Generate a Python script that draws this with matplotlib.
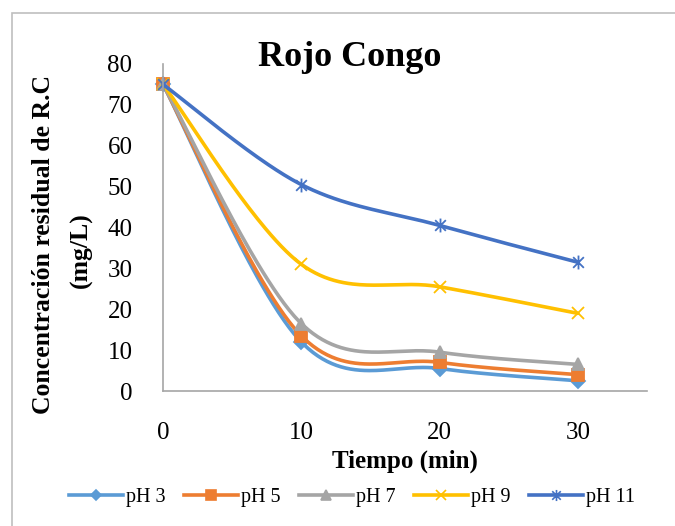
import numpy as np
import matplotlib
matplotlib.use("Agg")
import matplotlib.pyplot as plt
from matplotlib.lines import Line2D
from matplotlib.path import Path
from matplotlib.patches import Rectangle

plt.rcParams["font.family"] = ["Liberation Serif", "DejaVu Serif"]

tiempo = [0, 10, 20, 30]
ph3 = [75, 12, 5.5, 2.5]
ph5 = [75, 13.5, 7, 4]
ph7 = [75, 16.5, 9.5, 6.5]
ph9 = [75, 31, 25.5, 19]
ph11 = [75, 50.5, 40.5, 31.5]
labels = ["pH 3", "pH 5", "pH 7", "pH 9", "pH 11"]
colors = ["#5B9BD5", "#ED7D31", "#A5A5A5", "#FFC000", "#4472C4"]

# star marker: an x with a vertical bar through it
star = Path([(-1, -1), (1, 1), (-1, 1), (1, -1), (0, -1.3), (0, 1.3)],
            [Path.MOVETO, Path.LINETO, Path.MOVETO, Path.LINETO, Path.MOVETO, Path.LINETO])
markers = ["D", "s", "^", "x", star]
msizes = [7, 9, 9, 9, 10]


def smooth(x, y, n=60):
    # catmull-rom style bezier through the points
    x = np.asarray(x, float)
    y = np.asarray(y, float)
    px = np.concatenate([[x[0]], x, [x[-1]]])
    py = np.concatenate([[y[0]], y, [y[-1]]])
    xs, ys = [], []
    t = np.linspace(0, 1, n)
    for i in range(len(x) - 1):
        p0 = np.array([px[i + 1], py[i + 1]])
        p3 = np.array([px[i + 2], py[i + 2]])
        c1 = p0 + (np.array([px[i + 2], py[i + 2]]) - np.array([px[i], py[i]])) / 6
        c2 = p3 - (np.array([px[i + 3], py[i + 3]]) - np.array([px[i + 1], py[i + 1]])) / 6
        b = ((1 - t) ** 3)[:, None] * p0 + (3 * (1 - t) ** 2 * t)[:, None] * c1 \
            + (3 * (1 - t) * t ** 2)[:, None] * c2 + (t ** 3)[:, None] * p3
        xs.append(b[:, 0])
        ys.append(b[:, 1])
    return np.concatenate(xs), np.concatenate(ys)


fig = plt.figure(figsize=(6.75, 5.26), dpi=100)
fig.patches.append(Rectangle((12 / 675, -0.1), 1.2, 1 - 13 / 526 + 0.1, transform=fig.transFigure,
                             fill=False, edgecolor="#BFBFBF", linewidth=1.2))
ax = fig.add_axes([163 / 675, 1 - 391 / 526, (647 - 163) / 675, (391 - 64) / 526])

series = [ph3, ph5, ph7, ph9, ph11]
handles = []
for vals, lab, col, mk, ms in zip(series, labels, colors, markers, msizes):
    sx, sy = smooth(tiempo, vals)
    ax.plot(sx, sy, color=col, linewidth=2.6, solid_capstyle="round", clip_on=False)
    ax.plot(tiempo, vals, linestyle="none", marker=mk, markersize=ms, color=col,
            markeredgewidth=1.3, clip_on=False)
    handles.append(Line2D([0], [0], color=col, linewidth=2.6, marker=mk, markersize=ms * 0.8,
                          markeredgewidth=1.2, label=lab))

ax.set_xlim(0, 35)
ax.set_ylim(0, 80)
ax.set_xticks([0, 10, 20, 30])
ax.set_yticks(range(0, 81, 10))
ax.tick_params(length=0, labelsize=18)
ax.tick_params(axis="y", pad=22)
ax.tick_params(axis="x", pad=22)
for s in ["top", "right"]:
    ax.spines[s].set_visible(False)
for s in ["left", "bottom"]:
    ax.spines[s].set_color("#A6A6A6")
    ax.spines[s].set_linewidth(1.2)

ax.set_xlabel("Tiempo (min)", fontsize=18, fontweight="bold", labelpad=4)
fig.text(350 / 675, 1 - 57 / 526, "Rojo Congo", fontsize=26, fontweight="bold",
         ha="center", va="center")
fig.text(44 / 675, 1 - 245 / 526, "Concentración residual de R.C", fontsize=18.5,
         fontweight="bold", rotation=90, ha="center", va="center")
fig.text(81 / 675, 1 - 250 / 526, "(mg/L)", fontsize=18.5, fontweight="bold",
         rotation=90, ha="center", va="center")

fig.legend(handles=handles, loc="center", bbox_to_anchor=(352 / 675, 1 - 497 / 526),
           ncol=5, frameon=False, fontsize=14.5, handlelength=2.7, handletextpad=0.15,
           columnspacing=0.9)

fig.savefig("out.png", dpi=100)
